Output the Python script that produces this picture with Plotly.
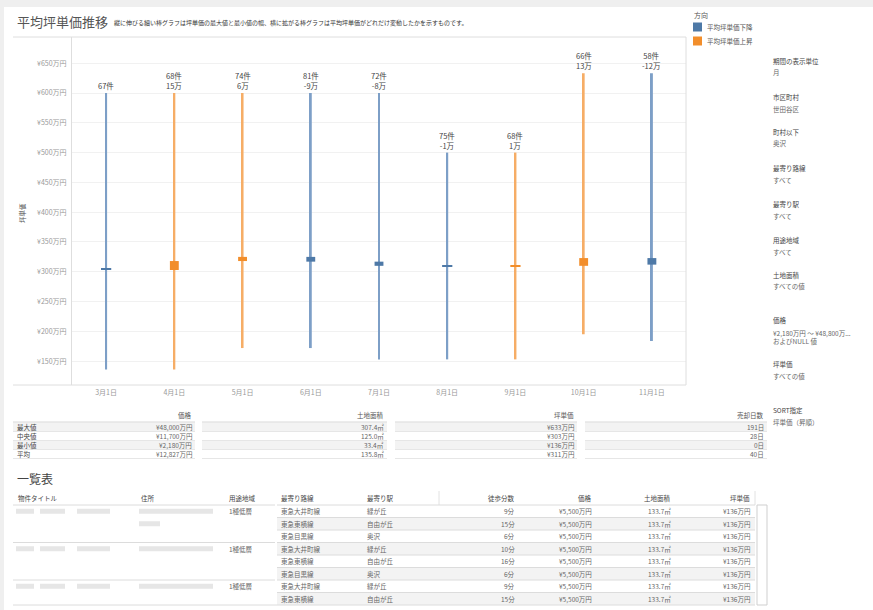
import plotly.graph_objects as go

W, H = 873, 610
FONT = "Noto Sans CJK JP"

# ---------------- data ----------------
months = ['3月1日', '4月1日', '5月1日', '6月1日', '7月1日', '8月1日', '9月1日', '10月1日', '11月1日']
max_price = [600, 600, 600, 600, 600, 500, 500, 633, 633]
min_price = [136, 136, 172, 172, 153, 153, 153, 195, 184]
avg_price = [303, 318, 325, 317, 310, 309, 310, 323, 312]
counts = [67, 68, 74, 81, 72, 75, 68, 66, 58]
change_labels = ['', '15万', '6万', '-9万', '-8万', '-1万', '1万', '13万', '-12万']
directions = ['下降', '上昇', '上昇', '下降', '下降', '下降', '上昇', '上昇', '下降']

y_ticks = [150, 200, 250, 300, 350, 400, 450, 500, 550, 600, 650]

legend_items = ['平均坪単価下降', '平均坪単価上昇']

filter_names = ['期間の表示単位', '市区町村', '町村以下', '最寄り路線', '最寄り駅', '用途地域', '土地面積', '価格', '坪単価', 'SORT指定']
filter_values = ['月', '世田谷区', '奥沢', 'すべて', 'すべて', 'すべて', 'すべての値',
                 '¥2,180万円 ～ ¥48,800万...<br>およびNULL 値', 'すべての値', '坪単価（昇順）']

summary_rows = ['最大値', '中央値', '最小値', '平均']
summary_cols = ['価格', '土地面積', '坪単価', '売却日数']
summary_price = ['¥48,000万円', '¥11,700万円', '¥2,180万円', '¥12,827万円']
summary_area = ['307.4㎡', '125.0㎡', '33.4㎡', '135.8㎡']
summary_unit = ['¥633万円', '¥303万円', '¥136万円', '¥311万円']
summary_days = ['191日', '28日', '0日', '40日']

list_headers = ['物件タイトル', '住所', '用途地域', '最寄り路線', '最寄り駅', '徒歩分数', '価格', '土地面積', '坪単価']
list_zone = ['1種低層', '', '', '1種低層', '', '', '1種低層', '']
list_line = ['東急大井町線', '東急東横線', '東急目黒線', '東急大井町線', '東急東横線', '東急目黒線', '東急大井町線', '東急東横線']
list_station = ['緑が丘', '自由が丘', '奥沢', '緑が丘', '自由が丘', '奥沢', '緑が丘', '自由が丘']
list_walk = ['9分', '15分', '6分', '10分', '16分', '6分', '9分', '15分']
list_price = ['¥5,500万円', '¥5,500万円', '¥5,500万円', '¥5,500万円', '¥5,500万円', '¥5,500万円', '¥5,500万円', '¥5,500万円']
list_area = ['133.7㎡', '133.7㎡', '133.7㎡', '133.7㎡', '133.7㎡', '133.7㎡', '133.7㎡', '133.7㎡']
list_unit = ['¥136万円', '¥136万円', '¥136万円', '¥136万円', '¥136万円', '¥136万円', '¥136万円', '¥136万円']

# ---------------- styles ----------------
BAR_COL = {'下降': '#4e79a7', '上昇': '#f28e2b'}
LINE_COL = {'下降': '#7d9fc7', '上昇': '#f6ad66'}


def X(px):
    return px / W


def Y(py):
    return 1 - py / H


anns = []
shapes = []


def txt(x, y, s, size=7, color='#555', xanchor='left', yanchor='middle', **kw):
    anns.append(dict(x=X(x), y=Y(y), xref='paper', yref='paper', text=s, showarrow=False,
                     xanchor=xanchor, yanchor=yanchor,
                     font=dict(size=size, color=color, family=FONT), **kw))


def rect(x0, y0, x1, y1, fill, line=None, lw=0):
    shapes.append(dict(type='rect', xref='paper', yref='paper', x0=X(x0), x1=X(x1), y0=Y(y0), y1=Y(y1),
                       fillcolor=fill, line=dict(color=line or fill, width=lw), layer='below'))


def hline(x0, x1, y, color='#e2e2e2', w=1, layer='above'):
    shapes.append(dict(type='line', xref='paper', yref='paper', x0=X(x0), x1=X(x1), y0=Y(y), y1=Y(y),
                       line=dict(color=color, width=w), layer=layer))


def vline(x, y0, y1, color='#e2e2e2', w=1, layer='above'):
    shapes.append(dict(type='line', xref='paper', yref='paper', x0=X(x), x1=X(x), y0=Y(y0), y1=Y(y1),
                       line=dict(color=color, width=w), layer=layer))


fig = go.Figure()

# range bars (min -> max)
fig.add_trace(go.Bar(
    x=months, base=min_price, y=[mx - mn for mx, mn in zip(max_price, min_price)],
    width=0.029, marker=dict(color=[LINE_COL[d] for d in directions], line=dict(width=0)),
    hoverinfo='skip'))

# average change boxes (previous avg -> current avg)
prev = [avg_price[0]] + avg_price[:-1]
box_base = [min(p, c) for p, c in zip(prev, avg_price)]
box_h = [max(abs(c - p), 1.8) for p, c in zip(prev, avg_price)]
box_w = [0.15 if abs(c - p) < 2 else 0.13 for p, c in zip(prev, avg_price)]
fig.add_trace(go.Bar(
    x=months, base=box_base, y=box_h, width=box_w,
    marker=dict(color=[BAR_COL[d] for d in directions], line=dict(width=0)),
    hoverinfo='skip'))

# labels above bars
for m, mx, c, ch in zip(months, max_price, counts, change_labels):
    t = f'{c}件' if not ch else f'{c}件<br>{ch}'
    anns.append(dict(x=m, y=mx, xref='x', yref='y', text=t, showarrow=False, yanchor='bottom',
                     yshift=0, font=dict(size=7.5, color='#444', family=FONT)))

# ---------------- background & frame ----------------
rect(4, 7, 873, 612, '#ffffff')
hline(13, 686, 37, '#dedede')
hline(13, 686, 385, '#dedede')
vline(686, 37, 385, '#dedede')

# titles
txt(15, 22, '平均坪単価推移', size=13, color='#555')
txt(112, 23, '縦に伸びる細い棒グラフは坪単価の最大値と最小値の幅、横に拡がる棒グラフは平均坪単価がどれだけ変動したかを示すものです。',
    size=6, color='#333')
txt(22, 213, '坪単価', size=6.5, color='#555', xanchor='center', textangle=-90)

# legend
txt(692, 15, '方向', size=7, color='#555')
for i, (name, key) in enumerate(zip(legend_items, ['下降', '上昇'])):
    yy = 27 + i * 14
    rect(693, yy - 4.5, 702, yy + 4.5, BAR_COL[key])
    txt(705, yy, name, size=6.5, color='#555')

# filters
filter_y = [61, 97, 132, 168, 204, 240, 275, 320, 364, 410]
for n, v, yy in zip(filter_names, filter_values, filter_y):
    txt(771, yy, n, size=6.5, color='#444')
    if '<br>' in v:
        txt(771, yy + 16.5, v, size=6.5, color='#666', align='left')
    else:
        txt(771, yy + 11.5, v, size=6.5, color='#666')

# ---------------- summary table ----------------
col_span = [(13, 195), (202, 387), (395, 577), (585, 767)]
col_vals = [summary_price, summary_area, summary_unit, summary_days]
row_y = [427, 436, 445, 454]
for ci, ((a, b), head, vals) in enumerate(zip(col_span, summary_cols, col_vals)):
    txt(b - 1, 415, head, size=6.5, color='#555', xanchor='right')
    hline(a, b, 422, '#d8d8d8')
    for ri, (yy, v) in enumerate(zip(row_y, vals)):
        if ri % 2 == 0:
            rect(a, yy - 4.5, b, yy + 4.5, '#f3f3f3')
        hline(a, b, yy + 4.5, '#e6e6e6')
        txt(b - 1, yy, v, size=6.5, color='#666', xanchor='right')
for yy, r in zip(row_y, summary_rows):
    txt(15, yy, r, size=6.5, color='#444')

# ---------------- list table ----------------
txt(15, 478, '一覧表', size=12, color='#444')
head_x = [17, 140, 228, 280, 366, 517, 594, 673, 752]
head_anchor = ['left', 'left', 'left', 'left', 'left', 'right', 'right', 'right', 'right']
for hx, ha, h in zip(head_x, head_anchor, list_headers):
    txt(hx - (1 if ha == 'left' else 0), 498, h, size=6.5, color='#444', xanchor=ha)
vline(439, 491, 505, '#e2e2e2')
vline(755, 491, 505, '#e2e2e2')

ry0 = 505
rh = 12.5
for i in range(len(list_line)):
    top = ry0 + i * rh
    cy = top + rh / 2
    if i % 2 == 1:
        rect(277, top, 755, top + rh, '#f3f3f3')
    hline(277, 755, top, '#dcdcdc')
    txt(279, cy, list_line[i], size=6.5, color='#666')
    txt(365, cy, list_station[i], size=6.5, color='#666')
    txt(517, cy, list_walk[i], size=6.5, color='#666', xanchor='right')
    txt(594, cy, list_price[i], size=6.5, color='#666', xanchor='right')
    txt(673, cy, list_area[i], size=6.5, color='#666', xanchor='right')
    txt(752, cy, list_unit[i], size=6.5, color='#666', xanchor='right')
    if list_zone[i]:
        hline(13, 275, top, '#dcdcdc')
        txt(227, cy, list_zone[i], size=6.5, color='#666')
        # blurred (unreadable) title / address placeholders
        for (a, b) in [(16, 34), (40, 65), (77, 110)]:
            rect(a, cy - 2.5, b, cy + 2.5, '#e6e6e6')
        rect(139, cy - 2.5, 213, cy + 2.5, '#e6e6e6')
        if i == 0:
            rect(139, cy + rh - 2.5, 160, cy + rh + 2.5, '#e6e6e6')
hline(13, 755, ry0 + len(list_line) * rh, '#dcdcdc')
# scrollbar
shapes.append(dict(type='rect', xref='paper', yref='paper', x0=X(757), x1=X(767), y0=Y(505), y1=Y(605),
                   fillcolor='#ffffff', line=dict(color='#cfcfcf', width=1)))

fig.update_layout(
    width=W, height=610, margin=dict(l=0, r=0, t=0, b=0),
    paper_bgcolor='#efefef', plot_bgcolor='#ffffff',
    barmode='overlay', showlegend=False,
    font=dict(family=FONT),
    annotations=anns, shapes=shapes,
    xaxis=dict(domain=[X(72), X(686)], type='category', range=[-0.5, 8.5],
               showgrid=False, zeroline=False, showline=False, ticks='',
               tickfont=dict(size=7, color='#999', family=FONT), ticklabelstandoff=2),
    yaxis=dict(domain=[Y(385), Y(37)], range=[110, 694],
               tickvals=y_ticks, ticktext=[f'¥{v}万円' for v in y_ticks],
               showgrid=True, gridcolor='#f1f1f1', zeroline=False,
               showline=True, linecolor='#dedede', ticks='',
               tickfont=dict(size=7, color='#999', family=FONT), ticklabelstandoff=3),
)

fig.write_html('out.html')
